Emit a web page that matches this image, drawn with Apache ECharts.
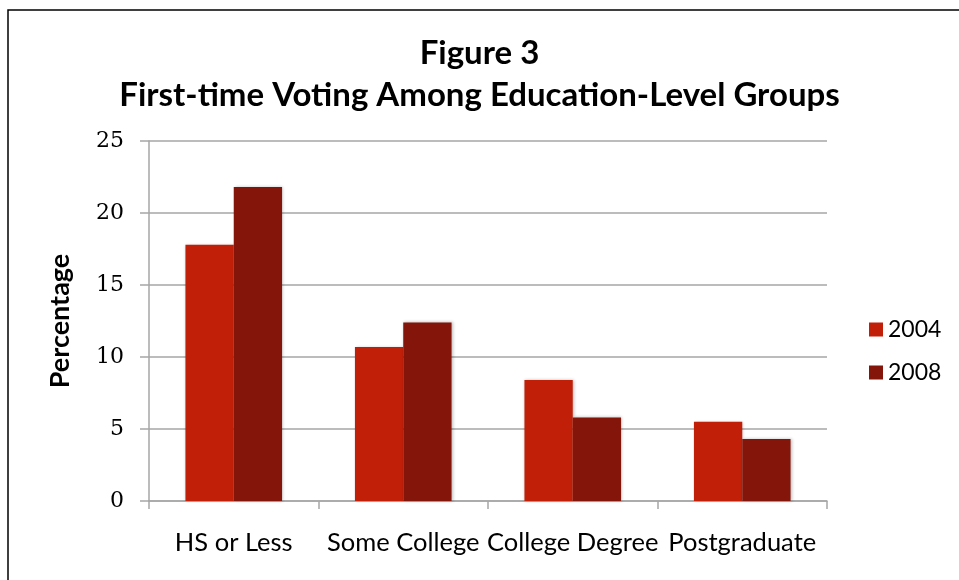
<!DOCTYPE html>
<html>
<head>
<meta charset="utf-8">
<script src="https://cdn.jsdelivr.net/npm/echarts@6/dist/echarts.min.js"></script>
<style>
  html, body { margin: 0; padding: 0; background: #fff; }
  #chart { width: 959px; height: 580px; }
</style>
</head>
<body>
<div id="chart"></div>
<script>
// Education-level groups and first-time voting shares (%)
const categories = ['HS or Less', 'Some College', 'College Degree', 'Postgraduate'];
const seriesNames = ['2004', '2008'];
const values2004 = [17.8, 10.7, 8.4, 5.5];
const values2008 = [21.8, 12.4, 5.8, 4.3];
const yTicks = [0, 5, 10, 15, 20, 25];

const colors = ['#C21F08', '#84150B'];
const sansFont = 'Lato, "Open Sans", sans-serif';
const gridColor = '#a6a6a6';

const chart = echarts.init(document.getElementById('chart'), null, { renderer: 'canvas' });

const barSeries = [values2004, values2008].map((vals, i) => ({
  name: seriesNames[i],
  type: 'bar',
  data: vals,
  barGap: '0%',
  barCategoryGap: '43%',
  itemStyle: {
    color: colors[i],
    shadowColor: 'rgba(0,0,0,0.25)',
    shadowBlur: 3,
    shadowOffsetX: 1,
    shadowOffsetY: 0
  }
}));

chart.setOption({
  animation: false,
  backgroundColor: '#fff',
  title: {
    text: 'Figure 3\nFirst-time Voting Among Education-Level Groups',
    left: 'center',
    top: 27,
    textStyle: {
      fontFamily: sansFont,
      fontWeight: 'bold',
      fontSize: 33,
      lineHeight: 42,
      color: '#000'
    }
  },
  legend: {
    orient: 'vertical',
    left: 864,
    top: 313,
    itemWidth: 14,
    itemHeight: 14,
    itemGap: 20,
    icon: 'rect',
    textStyle: { fontFamily: sansFont, fontSize: 23, color: '#000', padding: [0, 0, 0, 0] },
    data: seriesNames
  },
  grid: { left: 149, right: 132, top: 141, bottom: 79 },
  xAxis: {
    type: 'category',
    data: categories,
    axisLine: { lineStyle: { color: gridColor, width: 1.5 } },
    axisTick: { show: true, alignWithLabel: false, length: 8, lineStyle: { color: gridColor, width: 1.5 } },
    axisLabel: {
      fontFamily: sansFont,
      fontSize: 25.5,
      color: '#000',
      margin: 29,
      interval: 0
    }
  },
  yAxis: {
    type: 'value',
    min: yTicks[0],
    max: yTicks[yTicks.length - 1],
    interval: 5,
    name: 'Percentage',
    nameLocation: 'middle',
    nameGap: 75,
    nameRotate: 90,
    nameTextStyle: {
      fontFamily: sansFont,
      fontWeight: 'bold',
      fontSize: 27,
      color: '#000'
    },
    axisLine: { show: true, lineStyle: { color: gridColor, width: 1.5 } },
    axisTick: { show: true, length: 9, lineStyle: { color: gridColor, width: 1.5 } },
    splitLine: { show: true, lineStyle: { color: gridColor, width: 1.5 } },
    axisLabel: {
      fontFamily: '"DejaVu Serif", "Liberation Serif", serif',
      fontSize: 22,
      color: '#000',
      margin: 25
    }
  },
  graphic: [{
    type: 'rect',
    shape: { x: 8, y: 10, width: 980, height: 600 },
    style: { fill: 'none', stroke: '#000', lineWidth: 1.5 },
    silent: true
  }],
  series: barSeries
});
</script>
</body>
</html>
